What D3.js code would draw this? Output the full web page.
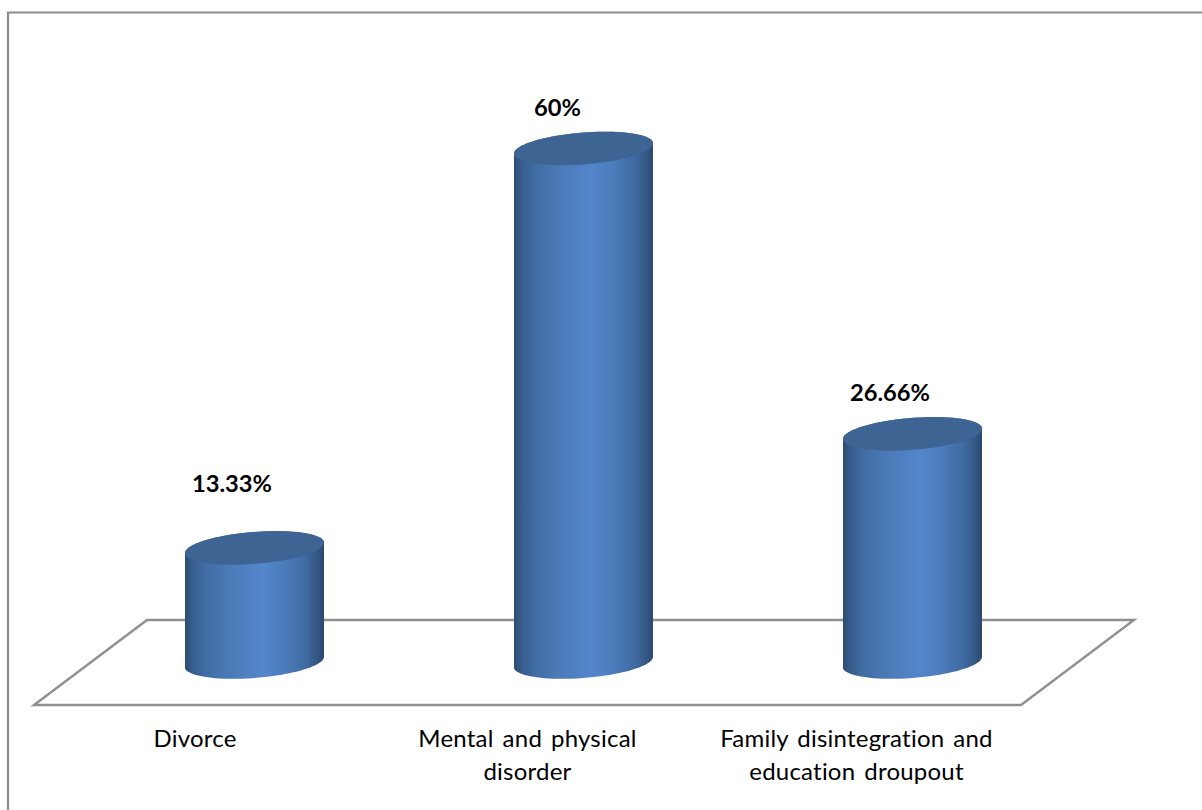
<!DOCTYPE html>
<html><head><meta charset="utf-8">
<script src="https://cdn.jsdelivr.net/npm/d3@7/dist/d3.min.js"></script>
<style>html,body{margin:0;background:#fff}svg{display:block}text{font-family:Lato,"Open Sans",sans-serif;fill:#000}</style>
</head><body><svg id="c" width="1202" height="810"></svg>
<script>
const categories = ["Divorce", "Mental and physical disorder", "Family disintegration and education droupout"];
const categoryLines = [["Divorce"], ["Mental and physical", "disorder"], ["Family disintegration and", "education droupout"]];
const values = [13.33, 60, 26.66];
const valueLabels = ["13.33%", "60%", "26.66%"];

const svg = d3.select("#c");
const floor = {x0:34, x1:1021, y0:705, dx:113, dy:85};
const x = d3.scaleBand().domain(categories).range([floor.x0, floor.x1]);
const y = d3.scaleLinear().domain([0, 60]).range([662, 148.5]);
const depth = 56, rx = 69.5, ry = 16, shear = 5.2;

// frame
svg.append("path").attr("d", "M8,810V12.5H1202").attr("fill","none").attr("stroke","#8c8c8c").attr("stroke-width",2.2);
// floor
svg.append("path").attr("d", d3.line()([[floor.x0,floor.y0],[floor.x1,floor.y0],[floor.x1+floor.dx,floor.y0-floor.dy],[floor.x0+floor.dx,floor.y0-floor.dy]])+"Z")
  .attr("fill","none").attr("stroke","#8f8f8f").attr("stroke-width",2.4);

const defs = svg.append("defs");
const g = defs.append("linearGradient").attr("id","body").attr("x1",0).attr("x2",1).attr("y1",0).attr("y2",0);
[[0,"#2c4b73"],[0.05,"#365c8b"],[0.14,"#406ca2"],[0.3,"#4a79b5"],[0.55,"#5486cb"],[0.72,"#4b7bb9"],[0.87,"#3f6aa1"],[0.96,"#335581"],[1,"#2c486e"]]
  .forEach(s=>g.append("stop").attr("offset",s[0]).attr("stop-color",s[1]));

const pt = (cx,cy,t)=>[cx+rx*Math.cos(t), cy+ry*Math.sin(t)-shear*Math.cos(t)];
const line = d3.line();

categories.forEach((c,i)=>{
  const cx = x(c)+x.bandwidth()/2+depth, top = y(values[i]), bot = y(0);
  const front = d3.range(0,181,4).map(a=>a*Math.PI/180);
  const bodyOutline = front.map(t=>pt(cx,bot,t)).concat([pt(cx,top,Math.PI)]).concat(d3.range(180,361,4).map(a=>pt(cx,top,a*Math.PI/180)));
  svg.append("path").attr("d",line(bodyOutline)+"Z").attr("fill","url(#body)");
  const cap = d3.range(0,360,3).map(a=>pt(cx,top,a*Math.PI/180));
  svg.append("path").attr("d",line(cap)+"Z").attr("fill","#3d6493");
});

// value labels
const labelLift = [64, 41, 41];
const labelShift = [33.5, 30, 33.5];
svg.selectAll(".v").data(values).join("text").attr("class","v")
  .attr("x",(d,i)=>x(categories[i])+x.bandwidth()/2+labelShift[i])
  .attr("y",(d,i)=>y(d)-labelLift[i]+8)
  .attr("text-anchor","middle").attr("font-size",23.7).attr("font-weight",700)
  .text((d,i)=>valueLabels[i]);

// category labels
const t = svg.selectAll(".cat").data(categories).join("text").attr("class","cat")
  .attr("text-anchor","middle").attr("font-size",24).attr("letter-spacing",0.22).attr("word-spacing",2.6);
t.each(function(c,i){
  d3.select(this).selectAll("tspan").data(categoryLines[i]).join("tspan")
    .attr("x",x(c)+x.bandwidth()/2-(i===0?3.5:0)).attr("y",(d,j)=>747+j*33).text(d=>d);
});
</script></body></html>
